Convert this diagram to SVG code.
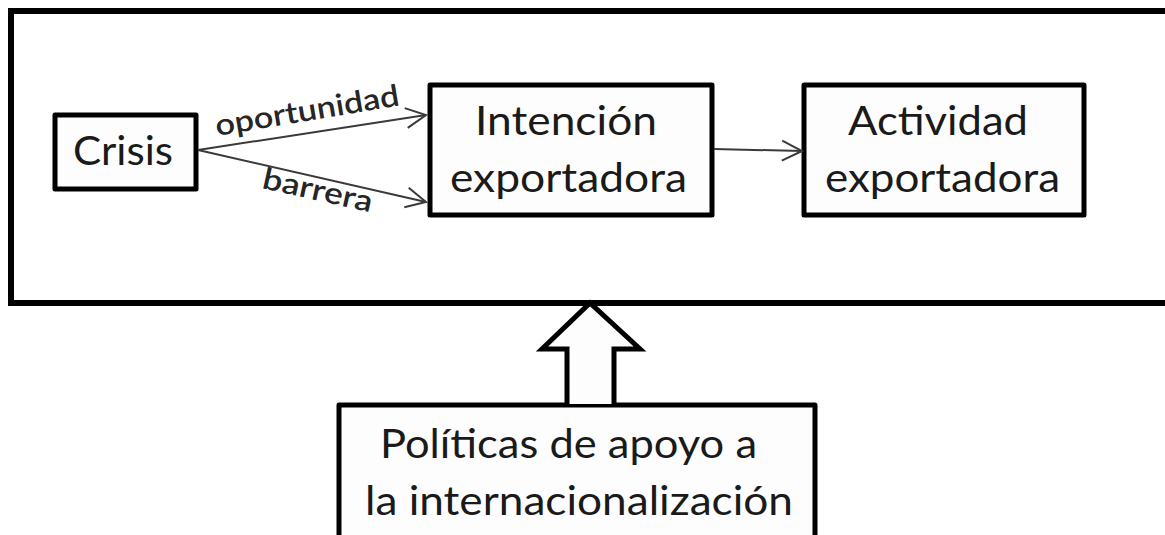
<svg xmlns="http://www.w3.org/2000/svg" width="1165" height="535" viewBox="0 0 1165 535">
  <defs>
    <style>
      .box { fill: #fdfdfd; stroke: #000; stroke-width: 5; stroke-linejoin: round; }
      .t { font-family: Lato, "Open Sans", sans-serif; font-size: 41px; fill: #1a1a1a; text-anchor: start; }
      .lbl { font-family: Lato, "Open Sans", sans-serif; font-size: 30px; font-weight: 600; fill: #262626; }
      .con { stroke: #3a3a3a; stroke-width: 2; fill: none; }
    </style>
    <marker id="openbig" viewBox="0 0 24 24" refX="22" refY="12" markerWidth="24" markerHeight="24" markerUnits="userSpaceOnUse" orient="auto">
      <path d="M2,2 L22,12 L2,22" fill="none" stroke="#3a3a3a" stroke-width="2"/>
    </marker>
  </defs>
  <rect width="1165" height="535" fill="#fff"/>
  <g id="frame">
    <rect x="11" y="11" width="1200" height="292" fill="none" stroke="#000" stroke-width="6"/>
  </g>
  <g id="crisis">
    <rect class="box" x="55" y="115" width="141" height="74"/>
    <text class="t" x="73" y="165" textLength="100" lengthAdjust="spacingAndGlyphs" font-size="44">Crisis</text>
  </g>
  <g id="intencion">
    <rect class="box" x="430" y="85" width="282" height="130"/>
    <text class="t" x="475" y="135" textLength="182" lengthAdjust="spacingAndGlyphs">Intención</text>
    <text class="t" x="450" y="192" textLength="237" lengthAdjust="spacingAndGlyphs">exportadora</text>
  </g>
  <g id="actividad">
    <rect class="box" x="804" y="85" width="280" height="130"/>
    <text class="t" x="848" y="135" textLength="180" lengthAdjust="spacingAndGlyphs">Actividad</text>
    <text class="t" x="825" y="192" textLength="235" lengthAdjust="spacingAndGlyphs">exportadora</text>
  </g>
  <g id="politicas">
    <rect class="box" x="339" y="405" width="476" height="140"/>
    <text class="t" x="380" y="458" textLength="377" lengthAdjust="spacingAndGlyphs">Políticas de apoyo a</text>
    <text class="t" x="365" y="515" textLength="428" lengthAdjust="spacingAndGlyphs">la internacionalización</text>
  </g>
  <g id="connectors">
    <line class="con" x1="198" y1="150" x2="426" y2="115" marker-end="url(#openbig)"/>
    <line class="con" x1="198" y1="150" x2="426" y2="202" marker-end="url(#openbig)"/>
    <line class="con" x1="714" y1="149" x2="802" y2="151" marker-end="url(#openbig)"/>
    <text class="lbl" transform="translate(217,136) rotate(-9.5)" textLength="186" lengthAdjust="spacingAndGlyphs">oportunidad</text>
    <text class="lbl" transform="translate(261,188) rotate(12.5)" textLength="112" lengthAdjust="spacingAndGlyphs">barrera</text>
    <path d="M567,404 L567,349 L542,349 L590,303 L640,349 L614,349 L614,404" fill="#fdfdfd" stroke="#000" stroke-width="5" stroke-linejoin="miter"/>
  </g>
</svg>
